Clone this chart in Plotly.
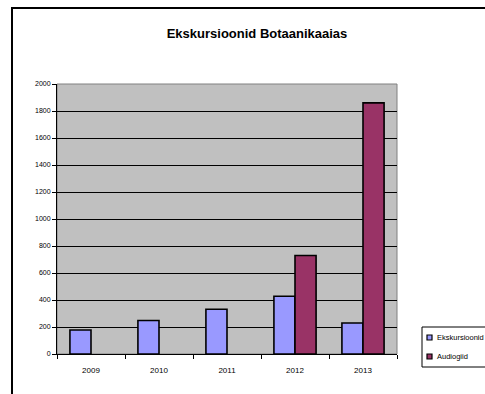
import plotly.graph_objects as go

years = ["2009", "2010", "2011", "2012", "2013"]
ekskursioonid = [178, 248, 332, 428, 230]
audiogiid = [None, None, None, 730, 1860]
series_names = ["Ekskursioonid", "Audiogiid"]
series_colors = ["#9999FF", "#993366"]
title_text = "Ekskursioonid Botaanikaaias"

W, H = 485, 394
L, R, T, B = 57, 397, 84, 354  # plot area in pixels

def px(x):
    return (x - L) / (R - L)

def py(y):
    return (B - y) / (B - T)

fig = go.Figure()
for name, vals, col in zip(series_names, [ekskursioonid, audiogiid], series_colors):
    fig.add_trace(go.Bar(
        x=years, y=vals, name=name,
        marker=dict(color=col, line=dict(color="black", width=1.6)),
        showlegend=False,
    ))

FONT = "Liberation Sans, Arial, sans-serif"

fig.update_layout(
    width=W, height=H,
    margin=dict(l=L, r=W - R, t=T, b=H - B, autoexpand=False),
    paper_bgcolor="white",
    plot_bgcolor="#C0C0C0",
    barmode="group",
    bargap=0.38,
    bargroupgap=0,
    font=dict(family=FONT, color="black"),
    title=dict(text="<b>" + title_text + "</b>", x=257 / W, xref="container",
               xanchor="center", y=1 - 33 / H, yref="container", yanchor="middle",
               font=dict(size=13, family=FONT, color="black")),
    xaxis=dict(
        type="category", tickson="boundaries", ticks="outside", ticklen=4,
        tickcolor="black", showline=True, linecolor="black", linewidth=1,
        showgrid=False, tickfont=dict(size=8, color="black"), ticklabelstandoff=8,
    ),
    yaxis=dict(
        range=[0, 2000], dtick=200, ticks="outside", ticklen=4, tickcolor="black",
        showline=True, linecolor="black", linewidth=1, showgrid=True,
        gridcolor="black", gridwidth=1, zeroline=False,
        tickfont=dict(size=7, color="black"),
    ),
)

shapes = []
# plot frame (gray)
shapes.append(dict(type="rect", xref="paper", yref="paper", x0=0, y0=0, x1=1, y1=1,
                   line=dict(color="#808080", width=1), layer="below"))
# outer chart border
shapes.append(dict(type="rect", xref="paper", yref="paper",
                   x0=px(12), y0=py(402), x1=px(492), y1=py(8),
                   line=dict(color="black", width=2)))
# legend box
shapes.append(dict(type="rect", xref="paper", yref="paper",
                   x0=px(422), y0=py(367), x1=px(500), y1=py(327),
                   line=dict(color="black", width=1), fillcolor="white"))
annotations = []
for i, (name, col) in enumerate(zip(series_names, series_colors)):
    cy = 337 + i * 19
    shapes.append(dict(type="rect", xref="paper", yref="paper",
                       x0=px(427), y0=py(cy + 3), x1=px(432), y1=py(cy - 2),
                       line=dict(color="black", width=1.2), fillcolor=col))
    annotations.append(dict(text=name, xref="paper", yref="paper",
                            x=px(435), y=py(cy), xanchor="left", yanchor="middle",
                            showarrow=False, font=dict(size=7.5, family=FONT, color="black")))

fig.update_layout(shapes=shapes, annotations=annotations)
fig.write_html("out.html")
